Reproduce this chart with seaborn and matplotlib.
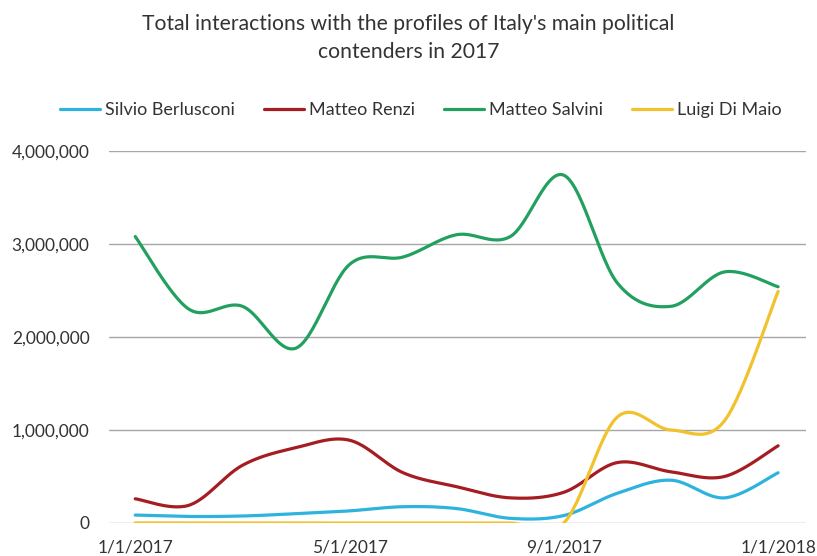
import numpy as np
import pandas as pd
import matplotlib
matplotlib.use("Agg")
import matplotlib.pyplot as plt
import seaborn as sns
from matplotlib.lines import Line2D
from matplotlib.ticker import FuncFormatter

# Monthly totals (Jan 2017 .. Jan 2018)
months = ["1/1/2017", "2/1/2017", "3/1/2017", "4/1/2017", "5/1/2017", "6/1/2017",
          "7/1/2017", "8/1/2017", "9/1/2017", "10/1/2017", "11/1/2017", "12/1/2017",
          "1/1/2018"]
berlusconi = [85000, 70000, 75000, 100000, 130000, 175000, 155000, 50000, 80000,
              320000, 460000, 270000, 540000]
renzi = [260000, 190000, 620000, 810000, 890000, 540000, 390000, 270000, 330000,
         650000, 550000, 500000, 830000]
salvini = [3080000, 2300000, 2330000, 1880000, 2780000, 2860000, 3100000, 3080000,
           3740000, 2580000, 2330000, 2700000, 2540000]
di_maio = [0, 0, 0, 0, 0, 0, 0, 0, 0, 1140000, 1000000, 1100000, 2490000]

series_names = ["Silvio Berlusconi", "Matteo Renzi", "Matteo Salvini", "Luigi Di Maio"]
series_values = [berlusconi, renzi, salvini, di_maio]
colors = ["#2EB3DF", "#A51D23", "#22A05F", "#F2C12E"]
xtick_labels = ["1/1/2017", "5/1/2017", "9/1/2017", "1/1/2018"]


def smooth(x, y, n=30):
    # Excel-style smoothed line: cubic Bezier through the points
    x = np.asarray(x, float)
    y = np.asarray(y, float)
    px = np.concatenate([[x[0]], x, [x[-1]]])
    py = np.concatenate([[y[0]], y, [y[-1]]])
    t = np.linspace(0, 1, n)[:, None]
    xs, ys = [], []
    for i in range(1, len(px) - 2):
        p0 = np.array([px[i], py[i]])
        p3 = np.array([px[i + 1], py[i + 1]])
        c1 = p0 + (np.array([px[i + 1], py[i + 1]]) - np.array([px[i - 1], py[i - 1]])) / 6
        c2 = p3 - (np.array([px[i + 2], py[i + 2]]) - np.array([px[i], py[i]])) / 6
        pts = ((1 - t) ** 3) * p0 + 3 * ((1 - t) ** 2) * t * c1 + 3 * (1 - t) * t ** 2 * c2 + t ** 3 * p3
        xs.append(pts[:, 0])
        ys.append(pts[:, 1])
    return np.concatenate(xs), np.concatenate(ys)


idx = np.arange(len(months))
frames = []
for name, vals in zip(series_names, series_values):
    sx, sy = smooth(idx, vals)
    frames.append(pd.DataFrame({"x": sx, "y": sy, "name": name}))
df = pd.concat(frames, ignore_index=True)

sns.set_theme(style="white")
plt.rcParams["font.family"] = ["Lato", "DejaVu Sans"]

fig = plt.figure(figsize=(8.17, 5.56), dpi=100)
ax = fig.add_axes([0.1334, 0.0594, 0.8531, 0.669])

sns.lineplot(data=df, x="x", y="y", hue="name", palette=dict(zip(series_names, colors)),
             sort=False, estimator=None, units="name", linewidth=2.3, legend=False, ax=ax)

ax.set_xlim(-0.49, 12.52)
ax.set_ylim(0, 4000000)
ax.set_yticks([0, 1000000, 2000000, 3000000, 4000000])
ax.yaxis.set_major_formatter(FuncFormatter(lambda v, p: f"{int(v):,}"))
ax.set_xticks([0, 4, 8, 12])
ax.set_xticklabels(xtick_labels)
ax.set_xlabel("")
ax.set_ylabel("")
ax.grid(axis="y", color="#A6A6A6", linewidth=1.0)
ax.set_axisbelow(True)
for s in ax.spines.values():
    s.set_visible(False)
ax.tick_params(axis="both", length=0, labelsize=12.5, colors="#333333")
ax.tick_params(axis="y", pad=14)
ax.tick_params(axis="x", pad=12)

fig.text(0.5, 0.957, "Total interactions with the profiles of Italy's main political",
         ha="center", va="center", fontsize=15.2, color="#333333")
fig.text(0.5, 0.907, "contenders in 2017", ha="center", va="center", fontsize=15.2, color="#333333")

handles = [Line2D([0], [0], color=c, linewidth=2.3) for c in colors]
fig.legend(handles, series_names, loc="center", bbox_to_anchor=(0.515, 0.802), ncol=4,
           frameon=False, fontsize=13, handlelength=2.2, handletextpad=0.3,
           columnspacing=1.6, labelcolor="#333333")

fig.savefig("out.png", dpi=100)
